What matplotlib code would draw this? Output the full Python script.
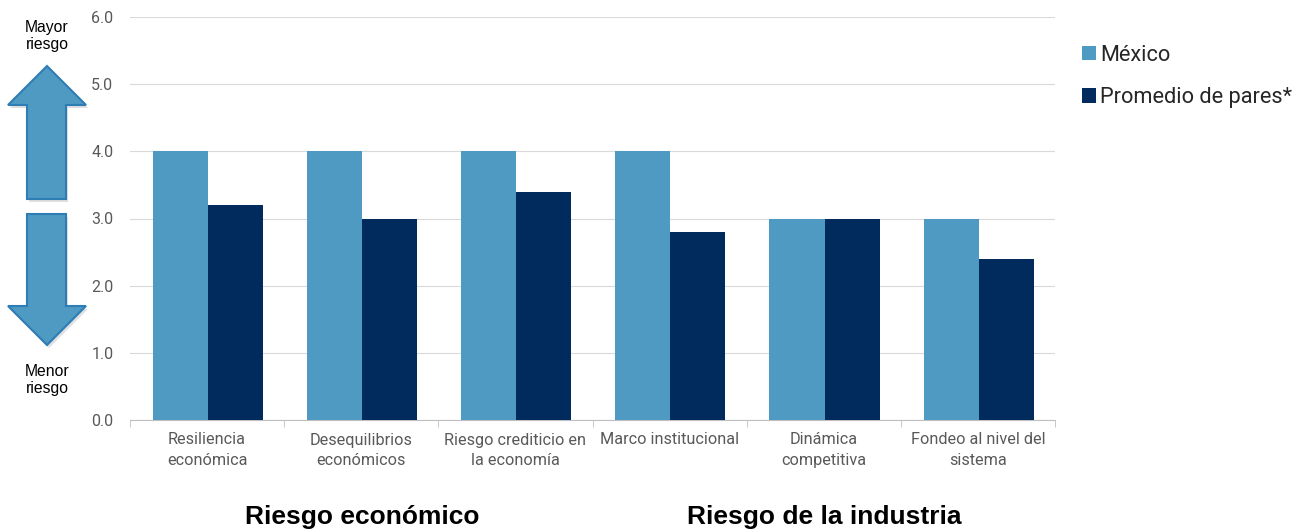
import numpy as np
import matplotlib.pyplot as plt
from matplotlib.patches import Polygon

categorias = ['Resiliencia\neconómica', 'Desequilibrios\neconómicos', 'Riesgo crediticio en\nla economía',
              'Marco institucional', 'Dinámica\ncompetitiva', 'Fondeo al nivel del\nsistema']
mexico = [4.0, 4.0, 4.0, 4.0, 3.0, 3.0]
pares = [3.2, 3.0, 3.4, 2.8, 3.0, 2.4]
grupos = ['Riesgo económico', 'Riesgo de la industria']

c_mex = '#4F9AC3'
c_par = '#002B5C'
gris = '#595959'

fig = plt.figure(figsize=(12.93, 5.32), dpi=100)
W, H = 1293, 532
ax = fig.add_axes([130 / W, (H - 420) / H, 925 / W, 403 / H])

x = np.arange(len(categorias))
w = 0.357
ax.bar(x - w / 2 + 0.005, mexico, w, color=c_mex, label='México', zorder=3)
ax.bar(x + w / 2 + 0.005, pares, w, color=c_par, label='Promedio de pares*', zorder=3)

ax.set_xlim(-0.5, len(categorias) - 0.5)
ax.set_ylim(0, 6)
ax.set_yticks(np.arange(0, 7))
ax.set_yticklabels([f'{v:.1f}' for v in range(7)], fontsize=11.5, color=gris, family='Roboto')
ax.tick_params(axis='y', length=0, pad=12)
ax.set_xticks(x)
ax.set_xticklabels(categorias, fontsize=11.7, color=gris, family='Roboto', linespacing=1.45)
ax.tick_params(axis='x', which='major', length=0, pad=9)
ax.set_xticks(np.arange(-0.5, len(categorias)), minor=True)
ax.tick_params(axis='x', which='minor', length=5, color='#BFBFBF')
ax.grid(axis='y', color='#D9D9D9', lw=0.8, zorder=0)
for s in ['top', 'right', 'left']:
    ax.spines[s].set_visible(False)
ax.spines['bottom'].set_color('#BFBFBF')

fig.legend(loc='upper left', bbox_to_anchor=(1062 / W, 1 - 25 / H), frameon=False,
           prop={'family': 'Roboto', 'size': 15.7}, handlelength=0.65, handleheight=0.65,
           handletextpad=0.2, labelspacing=1.0, labelcolor='#262626')

# grupos
for i, g in enumerate(grupos):
    fig.text((130 + 462.5 * i + 232) / W, 1 - 517 / H, g, ha='center', va='center',
             fontsize=19, fontweight='bold', family='Liberation Sans')

# flechas
ov = fig.add_axes([0, 0, 1, 1])
ov.set_xlim(0, W)
ov.set_ylim(H, 0)
ov.axis('off')
arriba = [(47, 66), (86, 105), (66, 105), (66, 199), (27, 199), (27, 105), (8, 105)]
abajo = [(27, 214), (66, 214), (66, 306), (86, 306), (47, 345), (8, 306), (27, 306)]
for pts in (arriba, abajo):
    sombra = [(px + 2, py + 3) for px, py in pts]
    ov.add_patch(Polygon(sombra, closed=True, color='#000000', alpha=0.12, lw=0))
    ov.add_patch(Polygon(pts, closed=True, facecolor=c_mex, edgecolor='#2F7DB5', lw=1.5))
ov.text(47, 36, 'Mayor\nriesgo', ha='center', va='center', fontsize=11.3,
        family='Liberation Sans', linespacing=1.2)
ov.text(47, 380, 'Menor\nriesgo', ha='center', va='center', fontsize=11.3,
        family='Liberation Sans', linespacing=1.2)

fig.savefig('out.png', dpi=100)
